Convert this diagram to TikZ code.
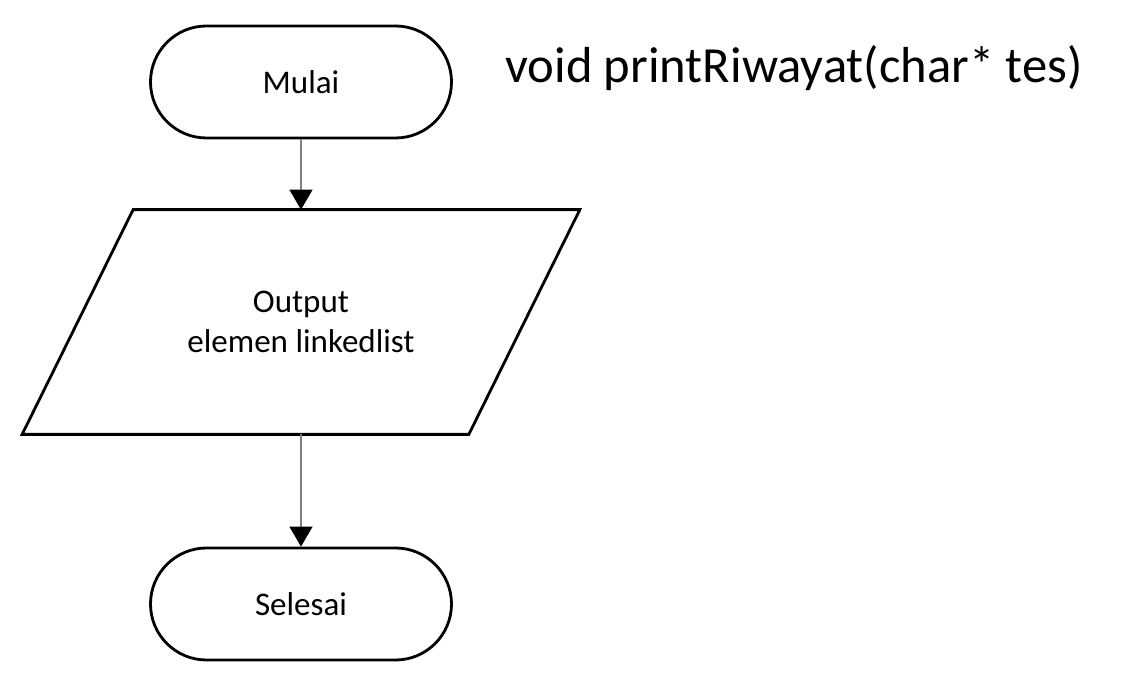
\documentclass[tikz,border=0pt]{standalone}
\usepackage{fontspec}
\setmainfont{Carlito}
\usetikzlibrary{shapes,arrows.meta,positioning,calc}

\begin{document}
\begin{tikzpicture}[
    term/.style={rectangle, draw=black, line width=1.6pt, rounded corners=1.12cm, minimum width=6.02cm, minimum height=2.24cm, align=center, font=\fontsize{18.8}{23}\selectfont},
    io/.style={rectangle, minimum width=8.92cm, minimum height=4.48cm, align=center, font=\fontsize{18.8}{23}\selectfont},
    border/.style={draw=black, line width=1.6pt, line join=miter},
    arr/.style={-{Triangle[width=0.46cm, length=0.4cm, color=black]}, line width=0.8pt, color=gray},
    hdr/.style={font=\fontsize{28.8}{34}\selectfont, inner sep=0pt}
]
\useasboundingbox (0,0) rectangle (22.46,13.66);

% --- Flow ---
\node[term] (mulai) at (6.02,12.02) {Mulai};
\node[io] (output) at (6.02,7.22) {Output\\elemen linkedlist};
\draw[border] ([xshift=1.11cm]output.north west) -- ([xshift=1.11cm]output.north east)
    -- ([xshift=-1.11cm]output.south east) -- ([xshift=-1.11cm]output.south west) -- cycle;
\node[term] (selesai) at (6.02,1.58) {Selesai};
\draw[arr] (mulai) -- (output);
\draw[arr] (output) -- (selesai);

% --- Title ---
\node[hdr, anchor=west] (judul) at (10.1,12.3) {void printRiwayat(char* tes)};
\end{tikzpicture}
\end{document}
